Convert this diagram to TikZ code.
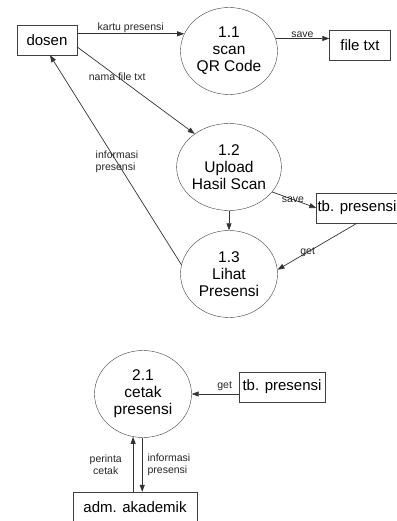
\documentclass[tikz,border=0pt]{standalone}
\usepackage{fontspec}
\setmainfont{Liberation Sans}
\usepackage{tikz}
\usetikzlibrary{shapes.geometric, arrows.meta, positioning}
\tikzstyle{process} = [ellipse, minimum width=97pt, minimum height=87pt, inner sep=0pt, align=center, draw=black!75, font=\fontsize{15.5}{17}\selectfont]
\tikzstyle{store} = [rectangle, minimum height=30pt, inner sep=1pt, text centered, draw=black!75, font=\fontsize{15}{17}\selectfont]
\tikzstyle{lbl} = [font=\fontsize{10.5}{12}\selectfont, inner sep=1pt, text=black!85, align=left]
\tikzstyle{arrow} = [draw=black!80, line width=0.7pt, ->, >={Triangle[length=7pt,width=5pt]}]

\begin{document}
\begin{tikzpicture}[node distance=107pt, auto]
				\useasboundingbox (0,0) rectangle (396pt,-521pt);
				\node(p11) [process] at (229pt,-51pt) {1.1\\scan\\QR Code};
				\node(p12) [process, below of=p11, yshift=-9pt] {1.2\\Upload\\Hasil Scan};
				\node(p13) [process, below of=p12] {1.3\\Lihat\\Presensi};
				\node(p21) [process, below of=p13, xshift=-86pt, yshift=-13pt] {2.1\\cetak\\presensi};
				
				\node(dosen) [store, minimum width=60pt, left of=p11, xshift=-75pt, yshift=11pt] {dosen};
				\node(ftxt) [store, minimum width=61pt, right of=p11, xshift=24pt, yshift=6pt] {file txt};
				\node(tb1) [store, minimum width=78pt, right of=p12, xshift=21pt, yshift=-41pt] {tb. presensi};
				\node(tb2) [store, minimum width=86pt, right of=p21, xshift=32pt, yshift=7pt] {tb. presensi};
				\node(adm) [store, minimum width=124pt, below of=p21, xshift=-8pt, yshift=-6pt] {adm. akademik};
				
				\draw[arrow] (dosen.east |- p11.159) -- node[lbl, above] {kartu presensi} (p11.159);
				\draw[arrow] (p11.15) -- node[lbl, above] {save} (p11.15 -| ftxt.west);
				\draw[arrow] (dosen.-13) -- node[lbl, pos=0.34, anchor=center] {nama file txt} (p12.136);
				\draw[arrow] (p13.169) -- node[lbl, pos=0.49, anchor=center] {informasi\\presensi} (dosen.-79);
				\draw[arrow] (p12.south) -- (p13.north);
				\draw[arrow] (p12.-30) -- node[lbl, pos=0.47, anchor=center] {save} (tb1.west);
				\draw[arrow] (tb1.south) -- node[lbl, pos=0.62, anchor=center] {get} (p13.5);
				\draw[arrow] (tb2.west |- p21.east) -- node[lbl, pos=0.3, above=2pt] {get} (p21.east);
				\draw[arrow] (p21.-103 |- adm.north) -- node[lbl, left=10pt, align=center] {perinta\\cetak} (p21.-103);
				\draw[arrow] (p21.-91) -- node[lbl, right=4pt] {informasi\\presensi} (p21.-91 |- adm.north);
			\end{tikzpicture}
\end{document}
